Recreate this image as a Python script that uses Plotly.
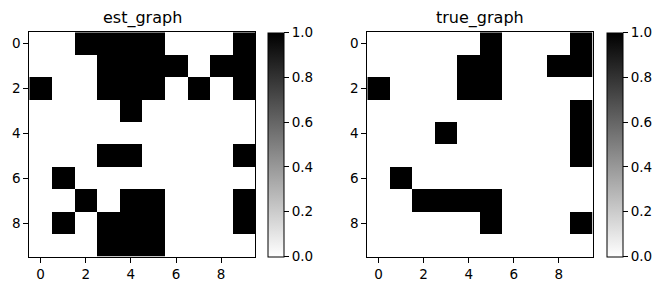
import plotly.graph_objects as go

est_graph = [
    [0, 0, 1, 1, 1, 1, 0, 0, 0, 1],
    [0, 0, 0, 1, 1, 1, 1, 0, 1, 1],
    [1, 0, 0, 1, 1, 1, 0, 1, 0, 1],
    [0, 0, 0, 0, 1, 0, 0, 0, 0, 0],
    [0, 0, 0, 0, 0, 0, 0, 0, 0, 0],
    [0, 0, 0, 1, 1, 0, 0, 0, 0, 1],
    [0, 1, 0, 0, 0, 0, 0, 0, 0, 0],
    [0, 0, 1, 0, 1, 1, 0, 0, 0, 1],
    [0, 1, 0, 1, 1, 1, 0, 0, 0, 1],
    [0, 0, 0, 1, 1, 1, 0, 0, 0, 0],
]
true_graph = [
    [0, 0, 0, 0, 0, 1, 0, 0, 0, 1],
    [0, 0, 0, 0, 1, 1, 0, 0, 1, 1],
    [1, 0, 0, 0, 1, 1, 0, 0, 0, 0],
    [0, 0, 0, 0, 0, 0, 0, 0, 0, 1],
    [0, 0, 0, 1, 0, 0, 0, 0, 0, 1],
    [0, 0, 0, 0, 0, 0, 0, 0, 0, 1],
    [0, 1, 0, 0, 0, 0, 0, 0, 0, 0],
    [0, 0, 1, 1, 1, 1, 0, 0, 0, 0],
    [0, 0, 0, 0, 0, 1, 0, 0, 0, 1],
    [0, 0, 0, 0, 0, 0, 0, 0, 0, 0],
]
titles = ["est_graph", "true_graph"]
indices = list(range(10))
tick_vals = [0, 2, 4, 6, 8]
cbar_ticks = [0.0, 0.2, 0.4, 0.6, 0.8, 1.0]

W, H = 659, 291
FONT = "DejaVu Sans"

# pixel layout
ax_px = [(29.3, 255.0), (367.3, 592.7)]
cb_left_px = [268.0, 606.7]
y_top, y_bot = 32.3, 256.7
ydom = [1 - y_bot / H, 1 - y_top / H]

fig = go.Figure()
colorscale = [[0, "#ffffff"], [1, "#000000"]]
mats = [est_graph, true_graph]
for i, (m, t) in enumerate(zip(mats, titles)):
    xa = "x" if i == 0 else "x2"
    ya = "y" if i == 0 else "y2"
    fig.add_trace(go.Heatmap(
        z=m, x=indices, y=indices, xaxis=xa, yaxis=ya,
        colorscale=colorscale, zmin=0, zmax=1,
        colorbar=dict(
            x=cb_left_px[i] / W, xanchor="left", xref="paper",
            y=(ydom[0] + ydom[1]) / 2, yanchor="middle",
            len=(y_bot - y_top) / H, lenmode="fraction",
            thickness=16, thicknessmode="pixels",
            outlinewidth=1, outlinecolor="black",
            tickvals=cbar_ticks, ticktext=[f"{v:.1f}" for v in cbar_ticks],
            ticks="outside", ticklen=5, tickwidth=1, tickcolor="black",
            tickfont=dict(family=FONT, size=13.5, color="black"),
            xpad=0, ypad=0,
        ),
        hoverinfo="z",
    ))
    xmid = (ax_px[i][0] + ax_px[i][1]) / 2 / W
    fig.add_annotation(
        text=t, x=xmid, y=1 - 18 / H, xref="paper", yref="paper",
        xanchor="center", yanchor="middle", showarrow=False,
        font=dict(family=FONT, size=16, color="black"),
    )

axis_common = dict(
    showline=True, linecolor="black", linewidth=1, mirror=True,
    ticks="outside", ticklen=5, tickwidth=1, tickcolor="black",
    tickvals=tick_vals, showgrid=False, zeroline=False,
    tickfont=dict(family=FONT, size=13.5, color="black"),
)
fig.update_layout(
    width=W, height=H,
    margin=dict(l=0, r=0, t=0, b=0),
    paper_bgcolor="white", plot_bgcolor="white",
    showlegend=False,
    xaxis=dict(domain=[ax_px[0][0] / W, ax_px[0][1] / W], range=[-0.5, 9.5], anchor="y", **axis_common),
    yaxis=dict(domain=ydom, range=[9.5, -0.5], anchor="x", **axis_common),
    xaxis2=dict(domain=[ax_px[1][0] / W, ax_px[1][1] / W], range=[-0.5, 9.5], anchor="y2", **axis_common),
    yaxis2=dict(domain=ydom, range=[9.5, -0.5], anchor="x2", **axis_common),
)

fig.write_html("out.html")
